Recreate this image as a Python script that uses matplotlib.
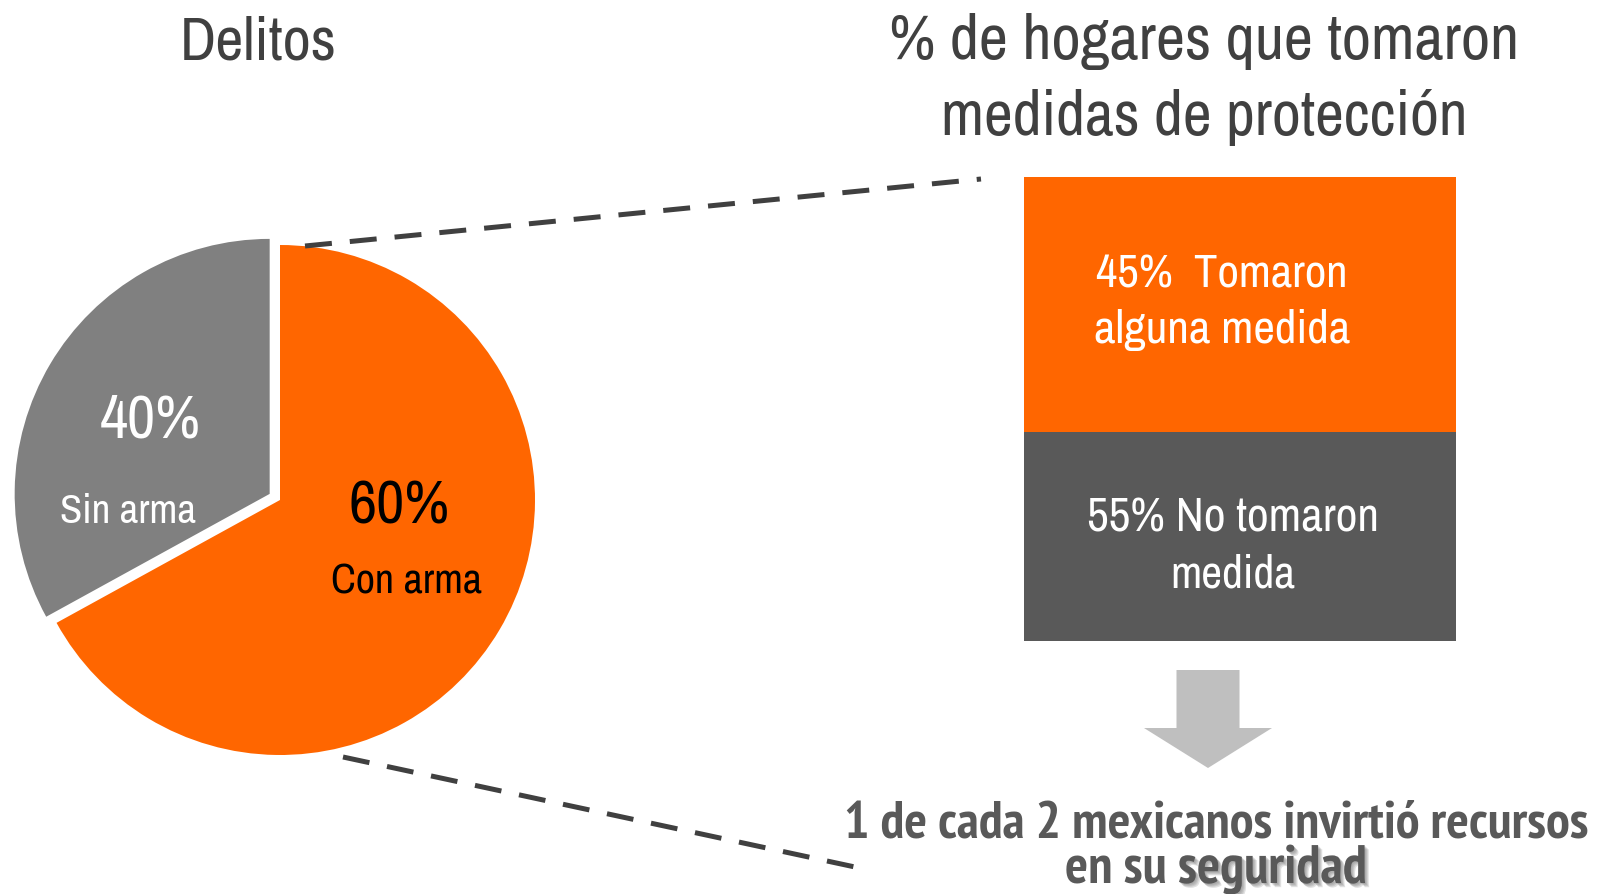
import matplotlib
matplotlib.use("Agg")
import matplotlib.pyplot as plt
from matplotlib import font_manager
from matplotlib.patches import FancyArrow
import matplotlib.patheffects as pe

# ---------------- data ----------------
pie_labels = ["Con arma", "Sin arma"]
pie_values = [67, 33]            # wedge sizes as drawn in the picture
pie_pct_text = ["60%", "40%"]

bar_labels = ["45%  Tomaron\nalguna medida", "55% No tomaron\nmedida"]
bar_heights = [55, 45]           # segment heights as drawn (top orange, bottom gray)

title_left = "Delitos"
title_right = ["% de hogares que tomaron", "medidas de protección"]
bottom_line1 = "1 de cada 2 mexicanos invirtió recursos"
bottom_line2a = "en su "
bottom_line2b = "seguridad"

# ---------------- style ----------------
ORANGE = "#FF6600"
GRAY = "#808080"
DARK = "#595959"
TITLE = "#404040"
DASH = "#404040"
ARROW = "#BFBFBF"

fl = font_manager.fontManager.ttflist
names = {f.name for f in fl}
cands = ["Liberation Sans Narrow", "Arial Narrow", "Archivo Narrow", "PT Sans Narrow",
         "Roboto Condensed", "Open Sans Condensed", "IBM Plex Sans Condensed",
         "Encode Sans Condensed", "Fira Sans Condensed", "Barlow Semi Condensed",
         "Sofia Sans Condensed", "Liberation Sans"]
REG = next((c for c in cands if c in names), "DejaVu Sans")
BOLD = next((c for c in cands if any(f.name == c and f.weight in (700, "bold") for f in fl)), REG)
plt.rcParams["font.family"] = [REG, "DejaVu Sans"]

W, H = 1606, 894
fig = plt.figure(figsize=(W / 100, H / 100), dpi=100)
ax = fig.add_axes([0, 0, 1, 1])
ax.set_xlim(0, W)
ax.set_ylim(0, H)
ren = fig.canvas.get_renderer()


def Y(y):
    return H - y


def fit(t, width):
    """scale font so the text is `width` px wide (as in the reference)"""
    for _ in range(2):
        w = t.get_window_extent(ren).width
        t.set_fontsize(t.get_fontsize() * width / w)
    return t


def txt(x, y, s, width, color, bold=False, **kw):
    fam = [BOLD if bold else REG, "DejaVu Sans"]
    t = ax.text(x, Y(y), s, color=color, fontsize=30, ha="center", va="baseline",
                family=fam, fontweight="bold" if bold else "normal", **kw)
    return fit(t, width)


# ---------------- pie ----------------
cx, cy, R = 280, 500, 255
ax.pie(pie_values, colors=[ORANGE, GRAY], startangle=90, counterclock=False,
       explode=[0, 12], center=(cx, Y(cy)), radius=R, wedgeprops=dict(linewidth=0))
ax.set_xlim(0, W)
ax.set_ylim(0, H)
ax.set_aspect("auto")

txt(399, 523, pie_pct_text[0], 101, "black")
txt(407, 593, pie_labels[0], 151, "black")
txt(150, 437, pie_pct_text[1], 101, "white")
txt(128, 523, pie_labels[1], 136, "white")

# ---------------- stacked bar ----------------
bx, bw = 1240, 432
btop, bbot = 177, 641
scale = (bbot - btop) / sum(bar_heights)
h_top, h_bot = bar_heights[0] * scale, bar_heights[1] * scale
ax.bar(bx, h_bot, width=bw, bottom=Y(bbot), color=DARK, linewidth=0)
ax.bar(bx, h_top, width=bw, bottom=Y(bbot) + h_bot, color=ORANGE, linewidth=0)

l1, l2 = bar_labels[0].split("\n")
txt(1222, 287, l1, 252, "white")
txt(1222, 343, l2, 256, "white")
l1, l2 = bar_labels[1].split("\n")
txt(1233, 532, l1, 292, "white")
txt(1233, 588, l2, 125, "white")

# ---------------- dashed connectors ----------------
dash = dict(color=DASH, linewidth=3.6, linestyle=(0, (5.4, 3.6)),
            dash_capstyle="butt", solid_capstyle="butt")
ax.plot([305, 981], [Y(246), Y(179)], **dash)
ax.plot([343, 855], [Y(757), Y(867)], **dash)

# ---------------- titles ----------------
txt(258, 59, title_left, 157, TITLE)
txt(1204, 59, title_right[0], 630, TITLE)
txt(1204, 135, title_right[1], 526, TITLE)

# ---------------- arrow ----------------
arr = FancyArrow(1208, Y(670), 0, -(768 - 670), width=63, head_width=128,
                 head_length=40, length_includes_head=True, color=ARROW, linewidth=0)
ax.add_patch(arr)

# ---------------- bottom statement ----------------
txt(1216, 838, bottom_line1, 744, DARK, bold=True)
full = txt(1216, 883, bottom_line2a + bottom_line2b, 302, DARK, bold=True, alpha=0)
bb = full.get_window_extent(ren)
x0 = ax.transData.inverted().transform((bb.x0, 0))[0]
x1 = ax.transData.inverted().transform((bb.x1, 0))[0]
fs = full.get_fontsize()
ax.text(x0, Y(883), bottom_line2a, color=DARK, fontsize=fs, fontweight="bold",
        family=[BOLD, "DejaVu Sans"], ha="left", va="baseline")
soft_shadow = [pe.SimplePatchShadow(offset=(o, -o), shadow_rgbFace="#7a7a7a", alpha=0.22)
               for o in (3.0, 2.2, 1.5, 0.8)]
ax.text(x1, Y(883), bottom_line2b, color=DARK, fontsize=fs, fontweight="bold",
        family=[BOLD, "DejaVu Sans"], ha="right", va="baseline",
        path_effects=soft_shadow + [pe.Normal()])

ax.axis("off")
fig.savefig("out.png", dpi=100, facecolor="white")
